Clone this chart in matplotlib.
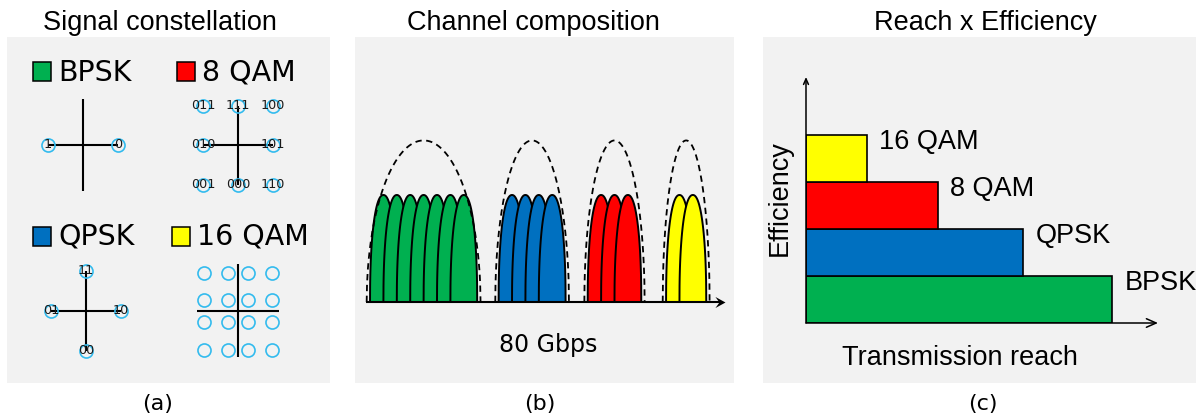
import numpy as np
import matplotlib.pyplot as plt
from matplotlib.patches import Rectangle
from matplotlib.path import Path

W, H = 1196, 418

# modulation formats and their colours
formats = ['BPSK', 'QPSK', '8 QAM', '16 QAM']
colors = ['#00B050', '#0070C0', '#FF0000', '#FFFF00']

# (a) constellation points (I, Q) and bit labels
bpsk_pts = [(-1, 0), (1, 0)]
bpsk_bits = ['1', '0']
qpsk_pts = [(0, 1), (-1, 0), (1, 0), (0, -1)]
qpsk_bits = ['11', '01', '10', '00']
qam8_pts = [(-1, 1), (0, 1), (1, 1), (-1, 0), (1, 0), (-1, -1), (0, -1), (1, -1)]
qam8_bits = ['011', '111', '100', '010', '101', '001', '000', '110']
qam16_levels = [-3.5, -1, 1, 3.5]

# (b) subcarriers per channel, channel start (in subcarrier spacings)
subcarriers = [7, 4, 3, 2]
channel_start = [0.3, 9.9, 16.55, 22.4]
axis_end = 26.8
lobe_height = 1.0
envelope_height = 1.51
rate_label = '80 Gbps'

# (c) reach per format, stacked by efficiency
reach = [10.0, 7.1, 4.3, 2.0]

ring = '#33BBEE'
panel_bg = '#F2F2F2'
sans = 'Liberation Sans'
dv = 'DejaVu Sans'

fig = plt.figure(figsize=(W / 100, H / 100), dpi=100)


def px_axes(x0, y0, x1, y1):
    ax = fig.add_axes([x0 / W, 1 - y1 / H, (x1 - x0) / W, (y1 - y0) / H])
    ax.set_facecolor('none')
    ax.axis('off')
    return ax


# background layer in pixel units
base = px_axes(0, 0, W, H)
base.set_xlim(0, W)
base.set_ylim(H, 0)
for x0, w in [(7, 323), (355, 379), (763, 433)]:
    base.add_patch(Rectangle((x0, 37), w, 346, fc=panel_bg, ec='none'))

for x, t in [(160, 'Signal constellation'), (533, 'Channel composition'),
             (985, 'Reach x Efficiency')]:
    base.text(x, 30, t, ha='center', va='baseline', fontsize=19.5, family=sans)
for x, t in [(158, '(a)'), (540, '(b)'), (983, '(c)')]:
    base.text(x, 404, t, ha='center', va='center', fontsize=16, family=dv)

# legend swatches in panel (a)
legend_pos = {'BPSK': (33, 62, 81), '8 QAM': (177, 62, 81),
              'QPSK': (33, 227, 245), '16 QAM': (172, 227, 245)}
for name, col in zip(formats, colors):
    sx, sy, base_y = legend_pos[name]
    base.add_patch(Rectangle((sx, sy), 18, 19, fc=col, ec='black', lw=1.1))
    base.text(sx + 25, base_y, name, ha='left', va='baseline', fontsize=20.5, family=dv)


def constellation(cx, cy, sx, sy, half=60):
    ax = px_axes(cx - half, cy - half, cx + half, cy + half)
    ax.set_xlim(-half / sx, half / sx)
    ax.set_ylim(-half / sy, half / sy)
    return ax


def draw_points(ax, pts, bits=None):
    xs = [p[0] for p in pts]
    ys = [p[1] for p in pts]
    ax.plot(xs, ys, 'o', ms=9.4, mfc='none', mec=ring, mew=1.2, zorder=3, clip_on=False)
    if bits:
        for (x, y), b in zip(pts, bits):
            ax.text(x, y, b, ha='center', va='center', fontsize=9.2, family=dv,
                    color='#1a1a1a', zorder=4)


line_kw = dict(color='black', lw=1.5, zorder=2, solid_capstyle='butt')

ax = constellation(83, 145, 35, 35)
ax.plot([-1, 1], [0, 0], **line_kw)
ax.plot([0, 0], [-1.31, 1.31], **line_kw)
draw_points(ax, bpsk_pts, bpsk_bits)

ax = constellation(86, 311, 35, 40)
ax.plot([-1, 1], [0, 0], **line_kw)
ax.plot([0, 0], [-1, 1], **line_kw)
draw_points(ax, qpsk_pts, qpsk_bits)

ax = constellation(238, 145, 35, 39.5)
ax.plot([-1, 1], [0, 0], **line_kw)
ax.plot([0, 0], [-1, 1], **line_kw)
draw_points(ax, qam8_pts, qam8_bits)

ax = constellation(238, 311, 9.8, 11)
ax.plot([-4.2, 4.2], [0, 0], **line_kw)
ax.plot([0, 0], [-4.2, 4.3], **line_kw)
draw_points(ax, [(i, q) for q in qam16_levels for i in qam16_levels])

# (b) channel composition
axb = px_axes(366, 120, 725, 302)
axb.set_xlim(0, axis_end)
axb.set_ylim(0, 182 / 107)
t = np.linspace(-1, 1, 300)
lobe = lobe_height * (1 - np.abs(t) ** 2.2) ** 0.45
envelope = envelope_height * np.sqrt(1 - t ** 2)
z = 2
for n, x0, col in zip(subcarriers, channel_start, colors):
    for k in range(n):
        axb.fill(x0 + k + 1 + t, lobe, fc=col, ec='black', lw=1.4, zorder=z, clip_on=False)
        z += 0.01
    half = (n + 1) / 2 + 0.25
    cx = x0 + (n + 1) / 2
    axb.plot(cx + half * t, envelope, color='black', lw=1.3, ls=(0, (3.5, 2.5)),
             zorder=5, clip_on=False)

# frequency axis with a barbed head
stealth = Path([(0, 0), (-1, 0.55), (-0.6, 0), (-1, -0.55), (0, 0)],
               [Path.MOVETO, Path.LINETO, Path.LINETO, Path.LINETO, Path.CLOSEPOLY])
axb.plot([0, axis_end - 0.4], [0, 0], color='black', lw=1.5, zorder=6, clip_on=False,
         solid_capstyle='butt')
axb.plot([axis_end], [0], marker=stealth, ms=14.5, color='black', mew=0, zorder=6,
         clip_on=False)
base.text(548, 352, rate_label, ha='center', va='baseline', fontsize=17, family=dv)

# (c) reach vs efficiency
axc = px_axes(806, 77, 1158, 323)
axc.set_xlim(0, 11.5)
axc.set_ylim(0, 246 / 47)
levels = np.arange(len(formats))
axc.barh(levels + 0.5, reach, height=1, color=colors, edgecolor='black', lw=1.2, zorder=3)
for lv, r, name in zip(levels, reach, formats):
    axc.text(r + 0.4, lv + 0.85, name, ha='left', va='center', fontsize=19.5, family=sans)
arrow_kw = dict(arrowstyle='->,head_length=0.5,head_width=0.22', color='black',
                lw=1.1, mutation_scale=14, shrinkA=0, shrinkB=0)
axc.annotate('', xy=(11.5, 0), xytext=(0, 0), arrowprops=arrow_kw, annotation_clip=False)
axc.annotate('', xy=(0, 246 / 47), xytext=(0, 0),
             arrowprops=dict(arrow_kw, mutation_scale=8), annotation_clip=False)
base.text(780, 198, 'Efficiency', rotation=90, ha='center', va='center',
          fontsize=19.5, family=sans)
base.text(960, 358, 'Transmission reach', ha='center', va='center',
          fontsize=19.5, family=sans)

fig.savefig('out.png', dpi=100)
